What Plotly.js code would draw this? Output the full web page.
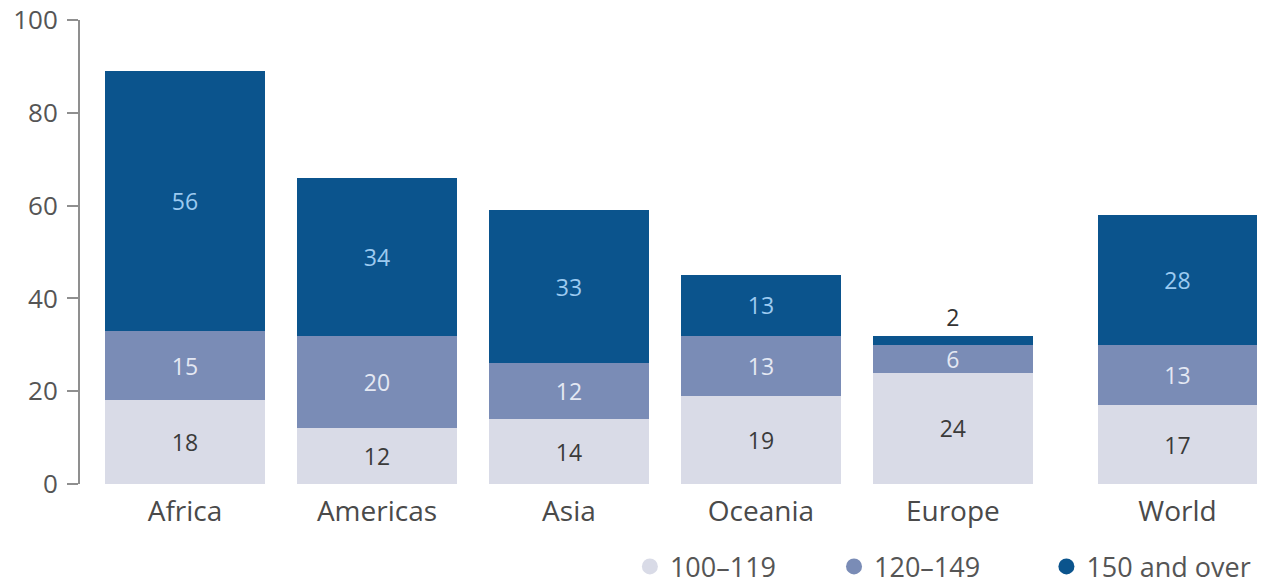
<!DOCTYPE html>
<html>
<head>
<meta charset="utf-8">
<script src="https://cdn.plot.ly/plotly-3.0.1.min.js"></script>
<style>html,body{margin:0;padding:0;background:#fff;}#chart{width:1277px;height:588px;}</style>
</head>
<body>
<div id="chart"></div>
<script>
const categories = ["Africa", "Americas", "Asia", "Oceania", "Europe", "World"];
const seriesNames = ["100–119", "120–149", "150 and over"];
const low = [18, 12, 14, 19, 24, 17];
const mid = [15, 20, 12, 13, 6, 13];
const high = [56, 34, 33, 13, 2, 28];
const yTicks = [0, 20, 40, 60, 80, 100];

// x positions: regions evenly spaced, World set apart by a gap
const worldGap = 0.17;
const xs = categories.map((c, i) => (c === "World" ? i + worldGap : i));

const colors = ["#d9dbe7", "#7a8cb6", "#0b548d"];
const textColors = ["#3a3a3a", "#e4e8f3", "#9ccaf0"];
const font = "Open Sans, Liberation Sans, sans-serif";

function barTrace(vals, k) {
  const topIdx = k === 2;
  const pos = vals.map(v => (topIdx && v < 4 ? "outside" : "inside"));
  const tcol = vals.map(v => (topIdx && v < 4 ? "#333333" : textColors[k]));
  return {
    type: "bar", x: xs, y: vals, name: seriesNames[k],
    marker: { color: colors[k], line: { width: 0 } },
    text: vals.map(String), textposition: pos, insidetextanchor: "middle",
    textangle: 0, constraintext: "none", cliponaxis: false,
    textfont: { family: font, size: 23, color: tcol },
    outsidetextfont: { family: font, size: 23, color: "#333333" },
    width: 0.833, showlegend: false, hoverinfo: "skip"
  };
}

const legendIds = ["legend", "legend2", "legend3"];
const legendTraces = seriesNames.map((n, k) => ({
  type: "scatter", mode: "markers", x: [null], y: [null], name: n, legend: legendIds[k],
  marker: { symbol: "circle", size: 16, color: colors[k] }, hoverinfo: "skip"
}));

const data = [barTrace(low, 0), barTrace(mid, 1), barTrace(high, 2)].concat(legendTraces);

function legendAt(xp) {
  return {
    orientation: "h", x: xp, xanchor: "left", y: 0.036, yanchor: "middle",
    xref: "paper", yref: "container",
    font: { family: font, size: 27, color: "#555" }, itemclick: false,
    bgcolor: "rgba(0,0,0,0)", itemwidth: 30
  };
}

const layout = {
  width: 1277, height: 588,
  margin: { l: 80, r: 17, t: 20, b: 104, autoexpand: false },
  paper_bgcolor: "#ffffff", plot_bgcolor: "#ffffff",
  barmode: "stack", bargap: 0,
  font: { family: font, color: "#444" },
  xaxis: {
    range: [-0.547, 5.6], tickmode: "array", tickvals: xs, ticktext: categories,
    showgrid: false, zeroline: false, showline: false, ticks: "",
    tickfont: { family: font, size: 28, color: "#4a4a4a" }, ticklabelstandoff: 8, fixedrange: true
  },
  yaxis: {
    range: [0, 100], tickmode: "array", tickvals: yTicks,
    showgrid: false, zeroline: false, showline: true, linecolor: "#8f8f8f", linewidth: 2,
    ticks: "outside", ticklen: 11, tickcolor: "#8f8f8f", tickwidth: 2,
    tickfont: { family: font, size: 26, color: "#555" }, ticklabelstandoff: 4
  },
  showlegend: true,
  legend: legendAt(0.466),
  legend2: legendAt(0.639),
  legend3: legendAt(0.819)
};

Plotly.newPlot("chart", data, layout, { displayModeBar: false, staticPlot: true });
</script>
</body>
</html>
